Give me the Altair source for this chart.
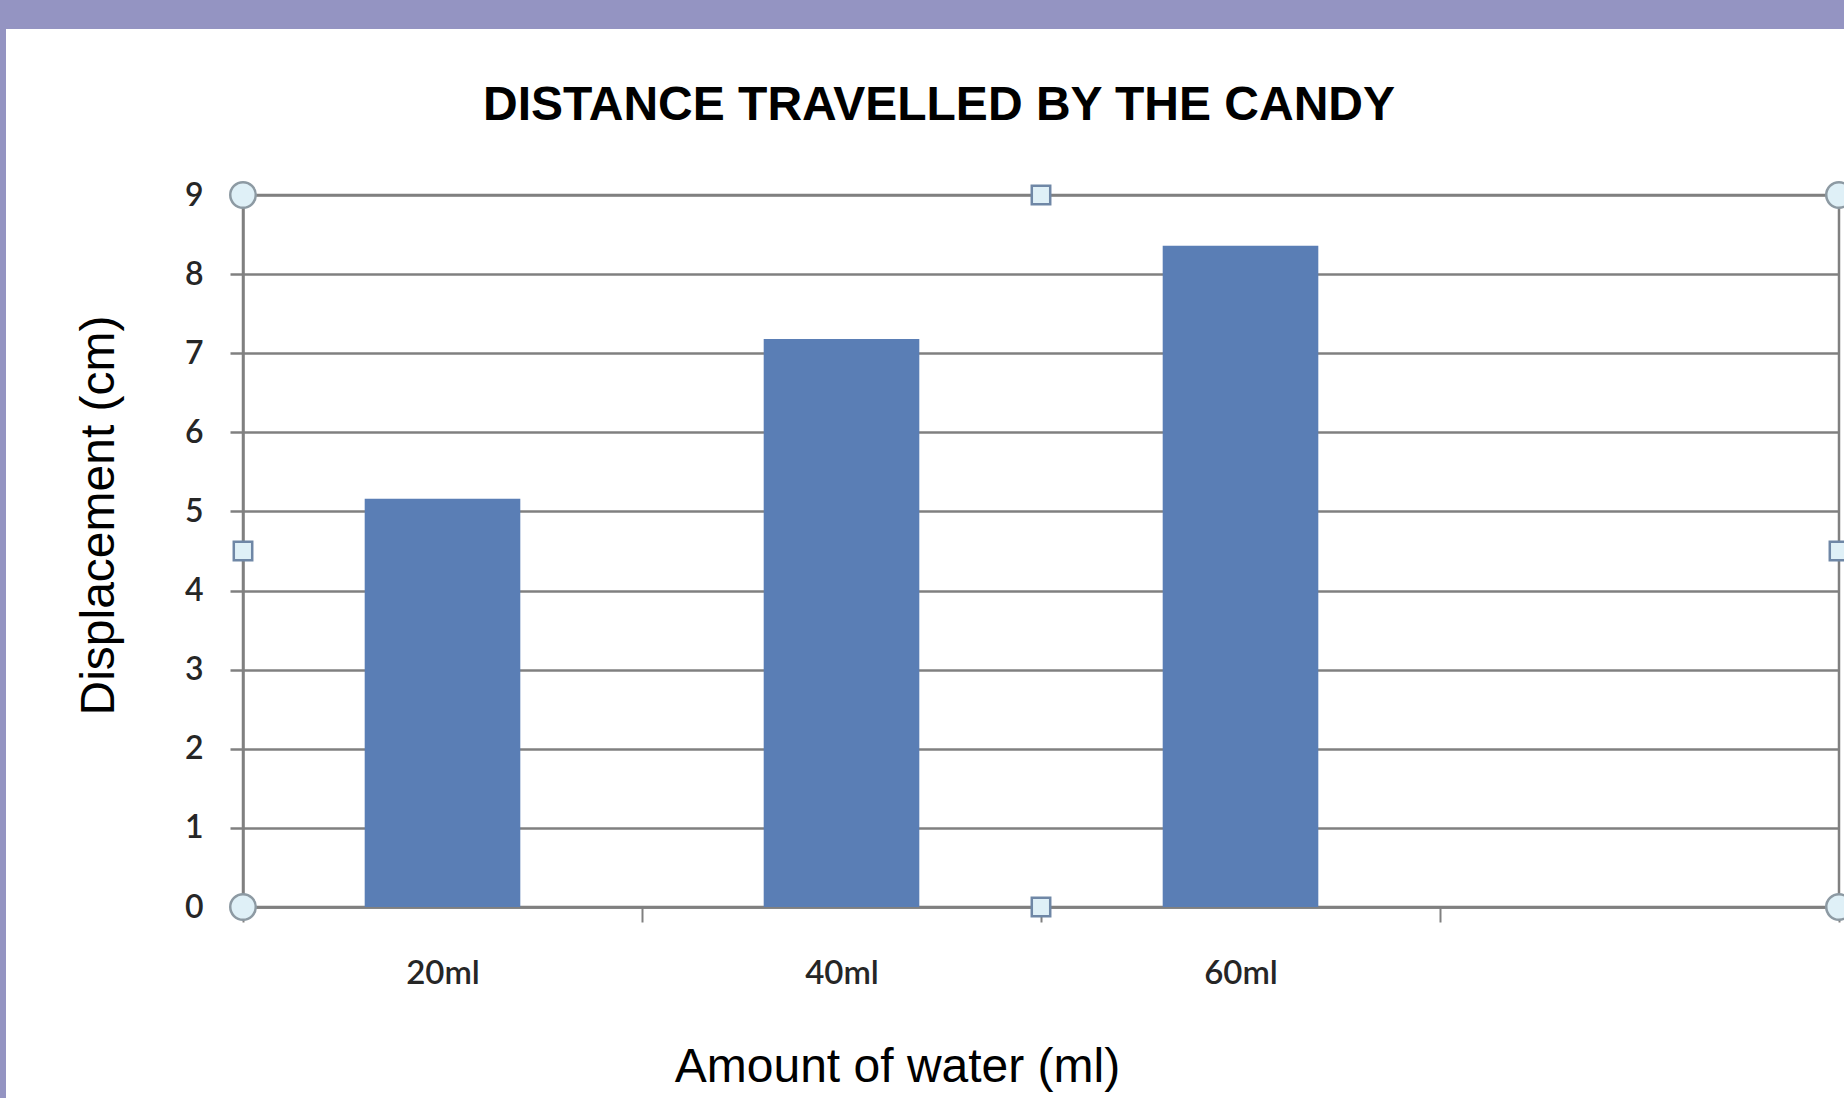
import altair as alt
import pandas as pd

# Candy experiment: amount of water vs. distance the candy moved
water = ["20ml", "40ml", "60ml"]
displacement = [5.16, 7.18, 8.36]
# category axis keeps one empty slot after the last reading
x_domain = ["20ml", "40ml", "60ml", ""]
y_ticks = [0, 1, 2, 3, 4, 5, 6, 7, 8, 9]

# selection handles on the plot-area outline (fraction of width, y value)
corner_x = [0, 1, 0, 1]
corner_y = [9, 9, 0, 0]
edge_x = [0.5, 0, 1, 0.5]
edge_y = [9, 4.5, 4.5, 0]

BAR = "#5a7eb5"
GRID = "#808080"
FRAME = "#9494c2"
HANDLE_FILL = "#dff0f7"
W, H = 1596, 712

bars_df = pd.DataFrame({"water": water, "displacement": displacement})

x_axis = alt.Axis(
    title="Amount of water (ml)", tickBand="extent", grid=False,
    tickSize=15, tickWidth=2, tickColor=GRID,
    domainColor=GRID, domainWidth=2.5,
    labelFont="Lato", labelFontSize=33, labelFontWeight=600, labelColor="#262626",
    labelAngle=0, labelPadding=61, labelBaseline="alphabetic",
    titleFont="Liberation Sans", titleFontSize=48, titleFontWeight="normal",
    titleColor="black", titleX=654, titleY=174,
    titleAlign="center", titleBaseline="alphabetic",
)
y_axis = alt.Axis(
    title="Displacement (cm)", values=y_ticks, format="d",
    grid=True, gridColor=GRID, gridWidth=2.5,
    tickSize=13, tickWidth=2.5, tickColor=GRID,
    domainColor=GRID, domainWidth=2.5,
    labelFont="Lato", labelFontSize=32, labelFontWeight=600, labelColor="#262626",
    labelPadding=27,
    titleFont="Liberation Sans", titleFontSize=48, titleFontWeight="normal",
    titleColor="black", titleAngle=270, titleX=-130, titleY=320,
    titleAlign="center", titleBaseline="alphabetic",
)
y_enc = alt.Y("displacement:Q", scale=alt.Scale(domain=[0, 9], nice=False), axis=y_axis)

blank = alt.Data(values=[{}])
frame_top = alt.Chart(blank).mark_rect(color=FRAME).encode(
    x=alt.value(-243), x2=alt.value(W + 5), y=alt.value(-195), y2=alt.value(-166)
)
frame_left = alt.Chart(blank).mark_rect(color=FRAME).encode(
    x=alt.value(-243), x2=alt.value(-237), y=alt.value(-195), y2=alt.value(H + 191)
)

bars = alt.Chart(bars_df).mark_bar(color=BAR, width=alt.RelativeBandSize(0.39)).encode(
    x=alt.X("water:N", scale=alt.Scale(domain=x_domain, paddingInner=0, paddingOuter=0),
            axis=x_axis),
    y=y_enc,
)

hx = alt.X("fx:Q", scale=alt.Scale(domain=[0, 1], nice=False, zero=False), axis=None)
circles = alt.Chart(pd.DataFrame({"fx": corner_x, "displacement": corner_y})).mark_point(
    shape="circle", filled=True, fill=HANDLE_FILL, stroke="#8d9aa3",
    strokeWidth=2.5, size=650, opacity=1
).encode(x=hx, y=y_enc)
squares = alt.Chart(pd.DataFrame({"fx": edge_x, "displacement": edge_y})).mark_point(
    shape="square", filled=True, fill=HANDLE_FILL, stroke="#6f87a6",
    strokeWidth=2.5, size=340, opacity=1
).encode(x=hx, y=y_enc)

chart = alt.layer(frame_top, frame_left, bars, circles, squares).resolve_scale(
    x="independent"
).properties(
    width=W, height=H,
    autosize=alt.AutoSizeParams(type="none"),
    padding={"left": 243, "top": 195, "right": 5, "bottom": 191},
    background="white",
    title=alt.TitleParams(
        "DISTANCE TRAVELLED BY THE CANDY", font="Liberation Sans", fontSize=48,
        fontWeight="bold", color="black", anchor="middle", frame="group",
        dx=-102, offset=-168, baseline="alphabetic",
    ),
).configure_view(stroke=GRID, strokeWidth=2.5)

chart.save("out.html", embed_options={"renderer": "svg", "actions": False})
